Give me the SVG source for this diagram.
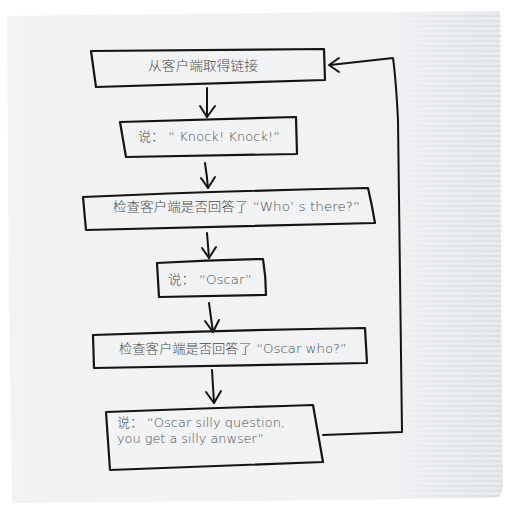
<svg xmlns="http://www.w3.org/2000/svg" width="515" height="510" viewBox="0 0 515 510">
  <defs>
    <style>
      .box { fill: none; stroke: #141414; stroke-width: 2.2; stroke-linejoin: round; stroke-linecap: round; }
      .line { fill: none; stroke: #141414; stroke-width: 2; stroke-linecap: round; stroke-linejoin: round; }
      .t { font-family: "DejaVu Sans", "Noto Sans CJK SC", sans-serif; font-size: 13px; fill: #4a4a4a; font-weight: 300; }
    </style>
    <pattern id="stripes" width="6" height="5" patternUnits="userSpaceOnUse">
      <rect x="0" y="0" width="6" height="2" fill="#b4bac3"/>
    </pattern>
    <linearGradient id="fade" x1="0" y1="0" x2="1" y2="0">
      <stop offset="0" stop-color="#fff" stop-opacity="0"/>
      <stop offset="0.4" stop-color="#fff" stop-opacity="0.45"/>
      <stop offset="1" stop-color="#fff" stop-opacity="0.7"/>
    </linearGradient>
    <mask id="m">
      <rect x="400" y="10" width="105" height="495" fill="url(#fade)"/>
    </mask>
    <linearGradient id="paper" x1="0" y1="0" x2="1" y2="0">
      <stop offset="0" stop-color="#f2f3f5"/>
      <stop offset="0.75" stop-color="#f1f2f4"/>
      <stop offset="1" stop-color="#e8ebee"/>
    </linearGradient>
  </defs>
  <rect width="515" height="510" fill="#ffffff"/>
  <g id="napkin">
    <path d="M7,16 L250,13 L500,11 L501,300 L503,485 Q503,496 494,498 L250,501 L12,503 L9,300 Z" fill="url(#paper)"/>
    <rect x="400" y="12" width="102" height="487" fill="url(#stripes)" mask="url(#m)" opacity="0.35"/>
  </g>

  <g id="connectors">
    <g id="a1"><path class="line" d="M207,88 L207,117"/><path class="line" d="M200,106 L207,117 L215,106"/></g>
    <g id="a2"><path class="line" d="M205,163 Q207,176 208,188"/><path class="line" d="M201,178 L208,188 L215,177"/></g>
    <g id="a3"><path class="line" d="M207,233 Q208,246 209,258"/><path class="line" d="M202,248 L209,258 L216,247"/></g>
    <g id="a4"><path class="line" d="M209,303 Q211,318 213,332"/><path class="line" d="M205,321 L213,332 L219,320"/></g>
    <g id="a5"><path class="line" d="M212,370 Q213,387 214,403"/><path class="line" d="M206,392 L214,403 L221,391"/></g>
    <g id="loop"><path class="line" d="M323,435 L402,432 Q399,240 398,120 Q396,80 393,58 L330,65"/><path class="line" d="M339,58 L329,65 L339,72"/></g>
  </g>

  <g id="n1">
    <path class="box" d="M91,51 L324,49 L325,80 L96,87 Z"/>
    <text class="t" x="148" y="70" textLength="110" lengthAdjust="spacingAndGlyphs">从客户端取得链接</text>
  </g>
  <g id="n2">
    <path class="box" d="M120,122 L296,117 L297,154 L126,157 Z"/>
    <text class="t" x="138" y="141" textLength="142" lengthAdjust="spacingAndGlyphs">说： “ Knock! Knock!”</text>
  </g>
  <g id="n3">
    <path class="box" d="M83,197 Q220,191 368,188 Q372,205 375,223 Q230,226 86,230 Z"/>
    <text class="t" x="113" y="211" textLength="247" lengthAdjust="spacingAndGlyphs">检查客户端是否回答了 “Who’ s there?”</text>
  </g>
  <g id="n4">
    <path class="box" d="M157,263 Q210,260 263,259 Q266,277 266,295 L159,297 Z"/>
    <text class="t" x="168" y="284" textLength="84" lengthAdjust="spacingAndGlyphs">说：  “Oscar”</text>
  </g>
  <g id="n5">
    <path class="box" d="M93,335 Q230,330 365,328 L367,363 Q230,366 94,368 Z"/>
    <text class="t" x="119" y="353" textLength="228" lengthAdjust="spacingAndGlyphs">检查客户端是否回答了 “Oscar who?”</text>
  </g>
  <g id="n6">
    <path class="box" d="M106,412 Q210,408 313,405 Q318,434 323,462 Q215,466 110,470 Z"/>
    <text class="t" x="117" y="427" textLength="168" lengthAdjust="spacingAndGlyphs">说：  “Oscar silly question,</text>
    <text class="t" x="117" y="443" textLength="147" lengthAdjust="spacingAndGlyphs">you get a silly anwser”</text>
  </g>
</svg>
